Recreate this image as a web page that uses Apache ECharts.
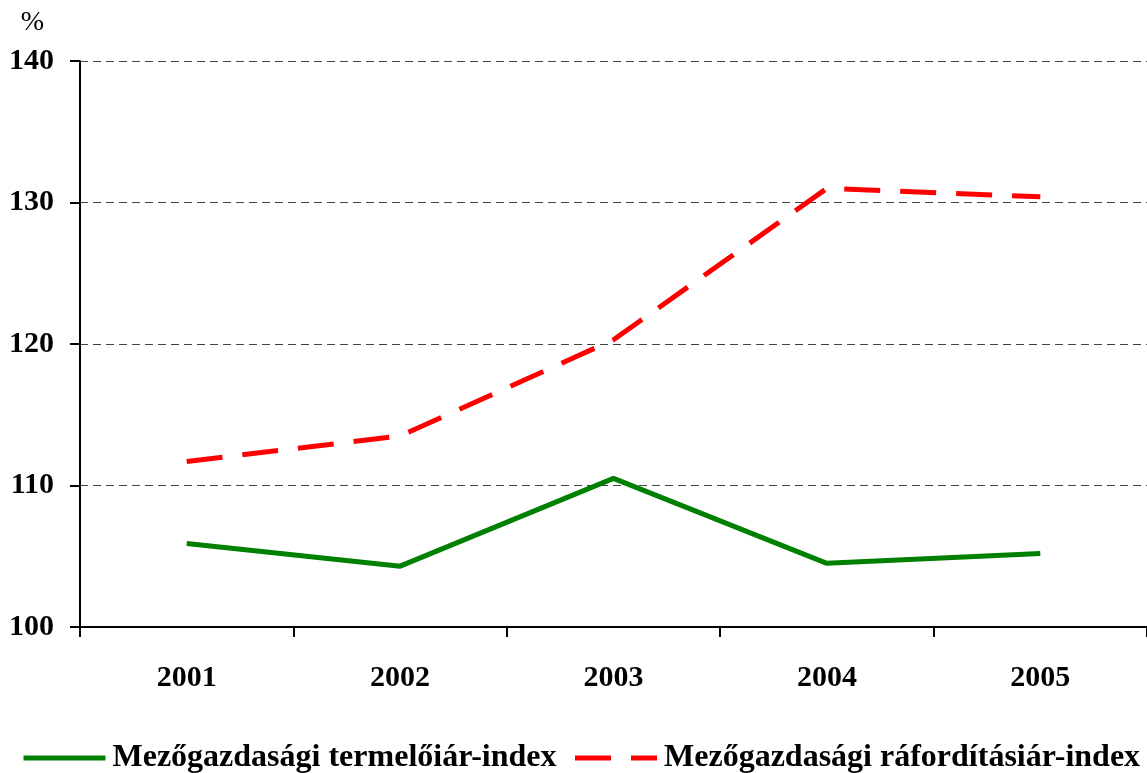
<!DOCTYPE html>
<html>
<head>
<meta charset="utf-8">
<title>Mezőgazdasági árindexek</title>
<script src="https://cdn.jsdelivr.net/npm/echarts@6/dist/echarts.min.js"></script>
<style>
  html, body { margin: 0; padding: 0; background: #fff; }
  #main { width: 1147px; height: 773px; }
</style>
</head>
<body>
<div id="main"></div>
<script>
// adatok
var years = ['2001', '2002', '2003', '2004', '2005'];
var termeloi = [105.9, 104.3, 110.5, 104.5, 105.2];
var raforditasi = [111.7, 113.5, 120.3, 131.0, 130.4];
var yTicks = [100, 110, 120, 130, 140];

var chart = echarts.init(document.getElementById('main'));
var font = '"Liberation Serif", "Times New Roman", serif';

var option = {
    backgroundColor: '#fff',
    animation: false,
    grid: { left: 80, right: -3, top: 61, bottom: 146 },
    legend: {
        bottom: -6,
        left: 16,
        width: 1147,
        padding: [5, 0, 5, 5],
        itemWidth: 82,
        itemHeight: 10,
        itemGap: 16,
        itemStyle: { opacity: 0 },
        lineStyle: { width: 5 },
        textStyle: { fontFamily: font, fontWeight: 'bold', fontSize: 32, color: '#000', padding: [0, 0, 0, 2] },
        data: ['Mezőgazdasági termelőiár-index', 'Mezőgazdasági ráfordításiár-index']
    },
    xAxis: {
        type: 'category',
        data: years,
        boundaryGap: true,
        axisLine: { lineStyle: { color: '#000', width: 2 } },
        axisTick: { show: true, length: 10, lineStyle: { color: '#000', width: 2 } },
        axisLabel: { margin: 36, fontFamily: font, fontWeight: 'bold', fontSize: 30, color: '#000' }
    },
    yAxis: {
        type: 'value',
        min: yTicks[0],
        max: yTicks[yTicks.length - 1],
        interval: 10,
        name: '%',
        nameGap: 24,
        nameTextStyle: { fontFamily: font, fontSize: 28, color: '#000', align: 'right', padding: [0, 36, 0, 0] },
        axisLine: { show: true, lineStyle: { color: '#000', width: 2 } },
        axisTick: { show: true, length: 10, lineStyle: { color: '#000', width: 2 } },
        axisLabel: { margin: 26, fontFamily: font, fontWeight: 'bold', fontSize: 30, color: '#000' },
        splitLine: { show: true, lineStyle: { color: '#444', width: 1, type: [8, 5] } }
    },
    series: [
        {
            name: 'Mezőgazdasági termelőiár-index',
            type: 'line',
            data: termeloi,
            symbol: 'none',
            color: '#008000',
            lineStyle: { color: '#008000', width: 5 }
        },
        {
            name: 'Mezőgazdasági ráfordításiár-index',
            type: 'line',
            data: raforditasi,
            symbol: 'none',
            color: '#ff0000',
            lineStyle: { color: '#ff0000', width: 5, type: [36, 20] }
        }
    ]
};

chart.setOption(option);
</script>
</body>
</html>
